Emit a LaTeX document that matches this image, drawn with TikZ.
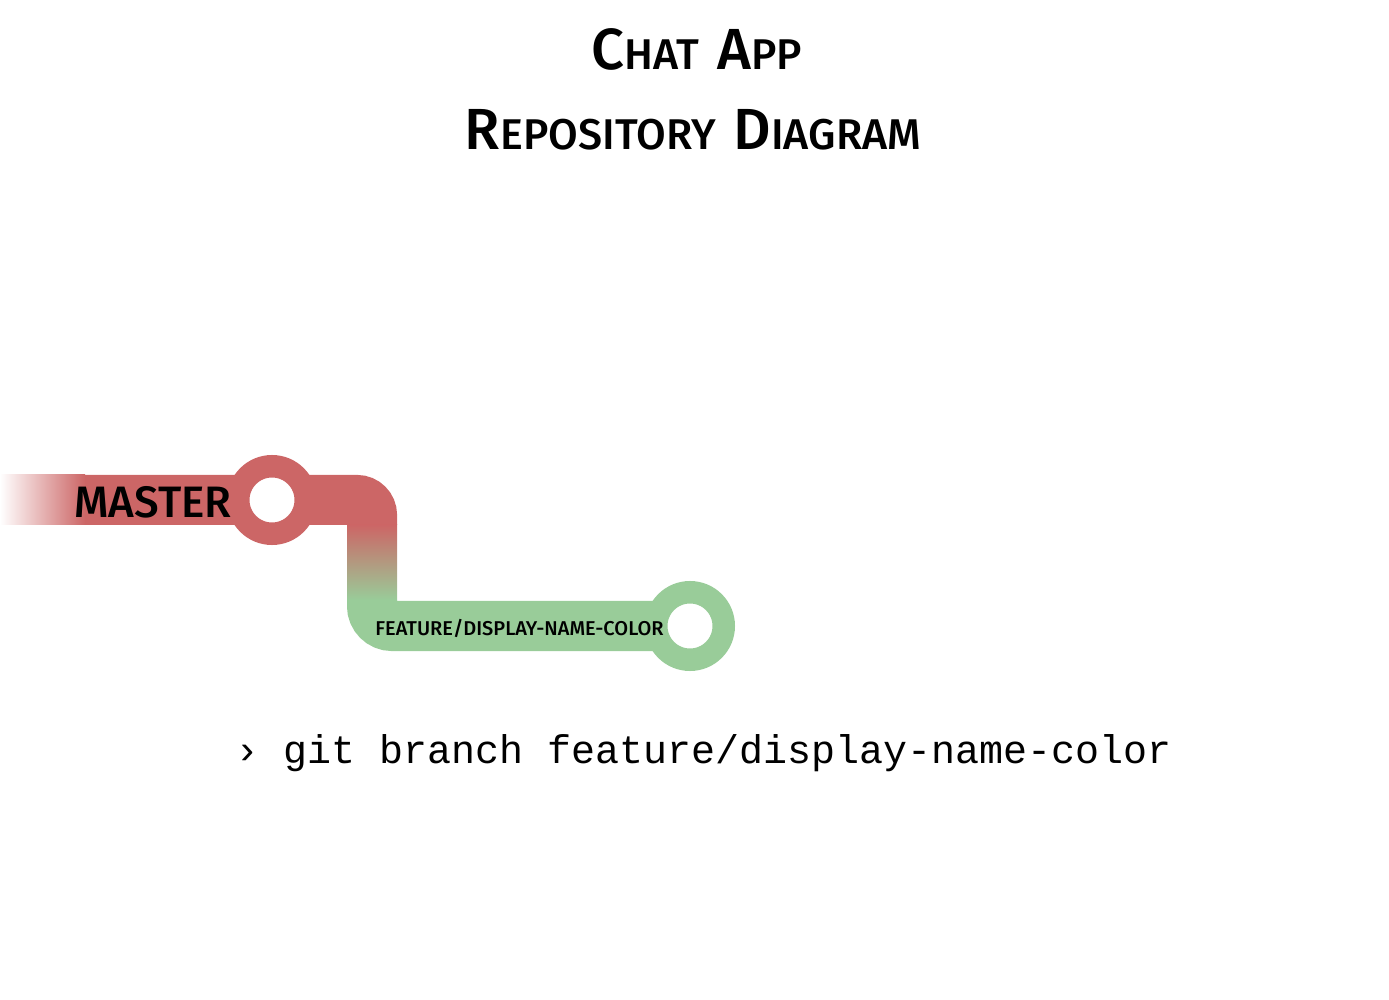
\documentclass[tikz,border=0pt]{standalone}
\usepackage{fontspec}
\setmainfont{Fira Sans Medium}
\newfontfamily\cmdfont{Liberation Mono}
\usepackage{tikz}
\usetikzlibrary{positioning}

\definecolor{masterred}{HTML}{CC6666}
\definecolor{featuregreen}{HTML}{99CC99}

% big first letter, small rest (small caps look)
\newcommand{\bigsc}[2]{{\fontsize{29}{30}\selectfont #1}{\fontsize{21.5}{22}\selectfont #2}}

\tikzset{
    branch/.style={line width=25pt},
    commit/.style={circle, draw=#1, line width=11.25pt, fill=white,
        minimum size=33.75pt, inner sep=0pt},
    branchlabel/.style={inner sep=0pt, text=black},
}

\begin{document}
\begin{tikzpicture}[x=0.5pt, y=-0.5pt]
    \useasboundingbox (0,0) rectangle (1389,1000);

    % Title
    \node[anchor=base] (title1) at (697,70) {\bigsc{C}{HAT}\hspace{9pt}\bigsc{A}{PP}};
    \node[anchor=base] (title2) at (693,150) {\bigsc{R}{EPOSITORY}\hspace{9pt}\bigsc{D}{IAGRAM}};

    % Points of the branches
    \coordinate (fadeend) at (85,500);
    \coordinate (c-master) at (272,500);
    \coordinate (bend1) at (372,500);
    \coordinate (redend) at (372,525);
    \coordinate (greenstart) at (372,600);
    \coordinate (bend2) at (372,626);
    \coordinate (c-feature) at (690,626);

    % Master line
    \shade[left color=white, right color=masterred] (0,475) rectangle (85,525);
    \draw[branch, masterred, rounded corners=7.5pt] (fadeend) -- (c-master) -- (bend1) -- (redend);

    % Branch off
    \shade[top color=masterred, bottom color=featuregreen] (347,525) rectangle (397,600);
    \draw[branch, featuregreen, rounded corners=10pt] (greenstart) -- (bend2) -- (c-feature);

    % Commits
    \node[commit=masterred] (master) at (c-master) {};
    \node[commit=featuregreen] (feature) at (c-feature) {};

    % Labels
    \node[branchlabel, anchor=base west, font=\fontsize{22}{22}\selectfont] (masterlabel) at (74,517) {MASTER};
    \node[branchlabel, anchor=base west, font=\fontsize{10}{10}\selectfont] (featurelabel) at (375,636) {FEATURE/DISPLAY-NAME-COLOR};

    % Command
    \node[anchor=base west, inner sep=0pt, font=\cmdfont\fontsize{20}{20}\selectfont] (cmd) at (235,763) {› git branch feature/display-name-color};
\end{tikzpicture}
\end{document}
